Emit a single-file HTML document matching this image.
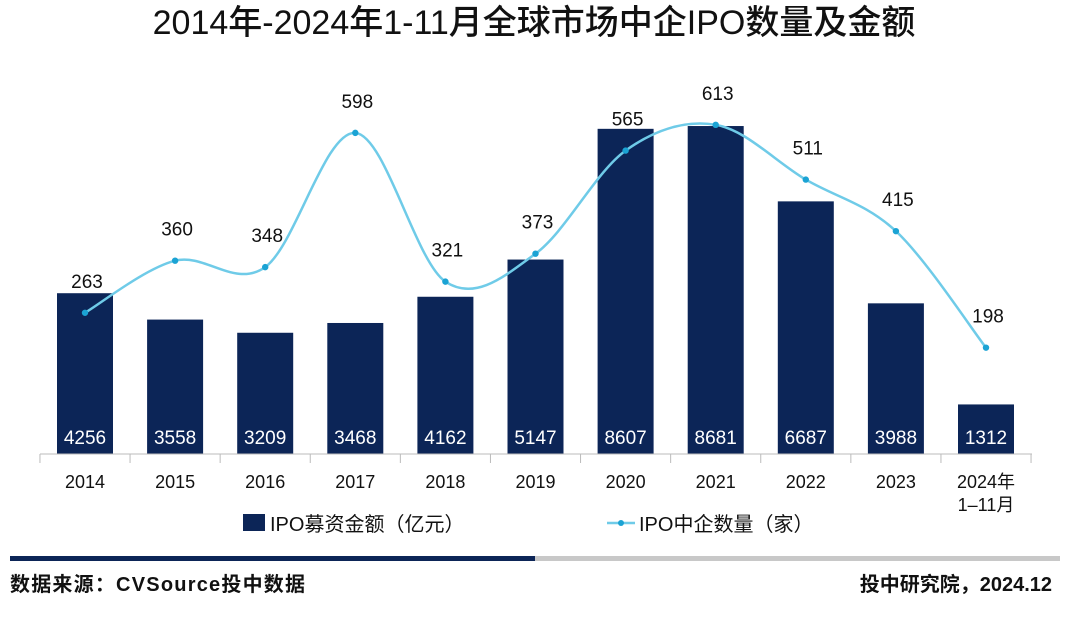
<!DOCTYPE html>
<html><head><meta charset="utf-8">
<style>
html,body{margin:0;padding:0;background:#fff;}
body{width:1080px;height:617px;overflow:hidden;font-family:"Liberation Sans","Noto Sans CJK SC",sans-serif;}
svg text{font-family:"Liberation Sans","Noto Sans CJK SC",sans-serif;}
</style></head>
<body>
<svg id="chart" width="1080" height="617" viewBox="0 0 1080 617" xmlns="http://www.w3.org/2000/svg">
<text x="534" y="34" text-anchor="middle" font-size="34" font-weight="500" fill="#111">2014年-2024年1-11月全球市场中企IPO数量及金额</text>
<g id="bars"></g>
<g id="line"></g>
<line x1="40" y1="454" x2="1032" y2="454" stroke="#bbb" stroke-width="1"/>
<g id="xlabels"></g>
<g>
<rect x="243" y="514" width="22" height="17" fill="#0c2557"/>
<text x="270" y="531" font-size="20" fill="#111">IPO募资金额（亿元）</text>
<line x1="607" y1="523" x2="635" y2="523" stroke="#6fcbe8" stroke-width="2.5"/>
<circle cx="621" cy="523" r="3" fill="#1ba3d4"/>
<text x="639" y="531" font-size="20" fill="#111">IPO中企数量（家）</text>
</g>
<rect x="10" y="556" width="525" height="5" fill="#0c2557"/>
<rect x="535" y="556" width="525" height="5" fill="#c8c8c8"/>
<text x="10" y="591" font-size="20" font-weight="bold" fill="#111" textLength="295">数据来源：CVSource投中数据</text>
<text x="1052" y="591" text-anchor="end" font-size="20" font-weight="bold" fill="#111">投中研究院，2024.12</text>
</svg>
<script>
const categories=["2014","2015","2016","2017","2018","2019","2020","2021","2022","2023","2024年"];
const amounts=[4256,3558,3209,3468,4162,5147,8607,8681,6687,3988,1312];
const counts=[263,360,348,598,321,373,565,613,511,415,198];
const NS="http://www.w3.org/2000/svg";
const base=454, x0=85, step=90.1, bw=56;
const xS=i=>x0+i*step;
const yA=v=>base-v*0.03778;
const yC=v=>base-v*0.537;
function mk(tag,attrs,parent,txt){const e=document.createElementNS(NS,tag);for(const k in attrs)e.setAttribute(k,attrs[k]);if(txt!==undefined)e.textContent=txt;parent.appendChild(e);return e;}
const gb=document.getElementById('bars'),gl=document.getElementById('line'),gx=document.getElementById('xlabels');
amounts.forEach((v,i)=>{
 const r=mk('rect',{x:xS(i)-bw/2,y:yA(v),width:bw,height:base-yA(v),fill:'#0c2557'},gb);
 
 
 const t=mk('text',{x:xS(i),y:444,'text-anchor':'middle','font-size':'19',fill:'#fff'},gb,String(v));
 
 
});
for(let i=0;i<=categories.length;i++){
 const tx=xS(i)-step/2;
 const tk=mk('line',{x1:tx,y1:base,x2:tx,y2:base+9,stroke:'#bbb'},gx);
 
 
}
categories.forEach((c,i)=>{
 const t=mk('text',{x:xS(i),y:488,'text-anchor':'middle','font-size':'18',fill:'#111'},gx,c);
 
 
});
const t2=mk('text',{x:xS(10),y:511,'text-anchor':'middle','font-size':'18',fill:'#111'},gx,'1–11月');


const pts=counts.map((v,i)=>[xS(i),yC(v)]);
let d='M'+pts[0][0]+','+pts[0][1];
for(let i=0;i<pts.length-1;i++){
 const p0=pts[Math.max(0,i-1)],p1=pts[i],p2=pts[i+1],p3=pts[Math.min(pts.length-1,i+2)];
 const c1=[p1[0]+(p2[0]-p0[0])/6,p1[1]+(p2[1]-p0[1])/6];
 const c2=[p2[0]-(p3[0]-p1[0])/6,p2[1]-(p3[1]-p1[1])/6];
 d+=' C'+c1+' '+c2+' '+p2;
}
const path=mk('path',{d:d,fill:'none',stroke:'#6fcbe8','stroke-width':'2.5'},gl);


counts.forEach((v,i)=>{
 const c=mk('circle',{cx:pts[i][0],cy:pts[i][1],r:3.2,fill:'#1ba3d4'},gl);
 
 
 const t=mk('text',{x:pts[i][0]+2,y:pts[i][1]-25,'text-anchor':'middle','font-size':'19',fill:'#111'},gl,String(v));
 
 
});
</script>
</body></html>
